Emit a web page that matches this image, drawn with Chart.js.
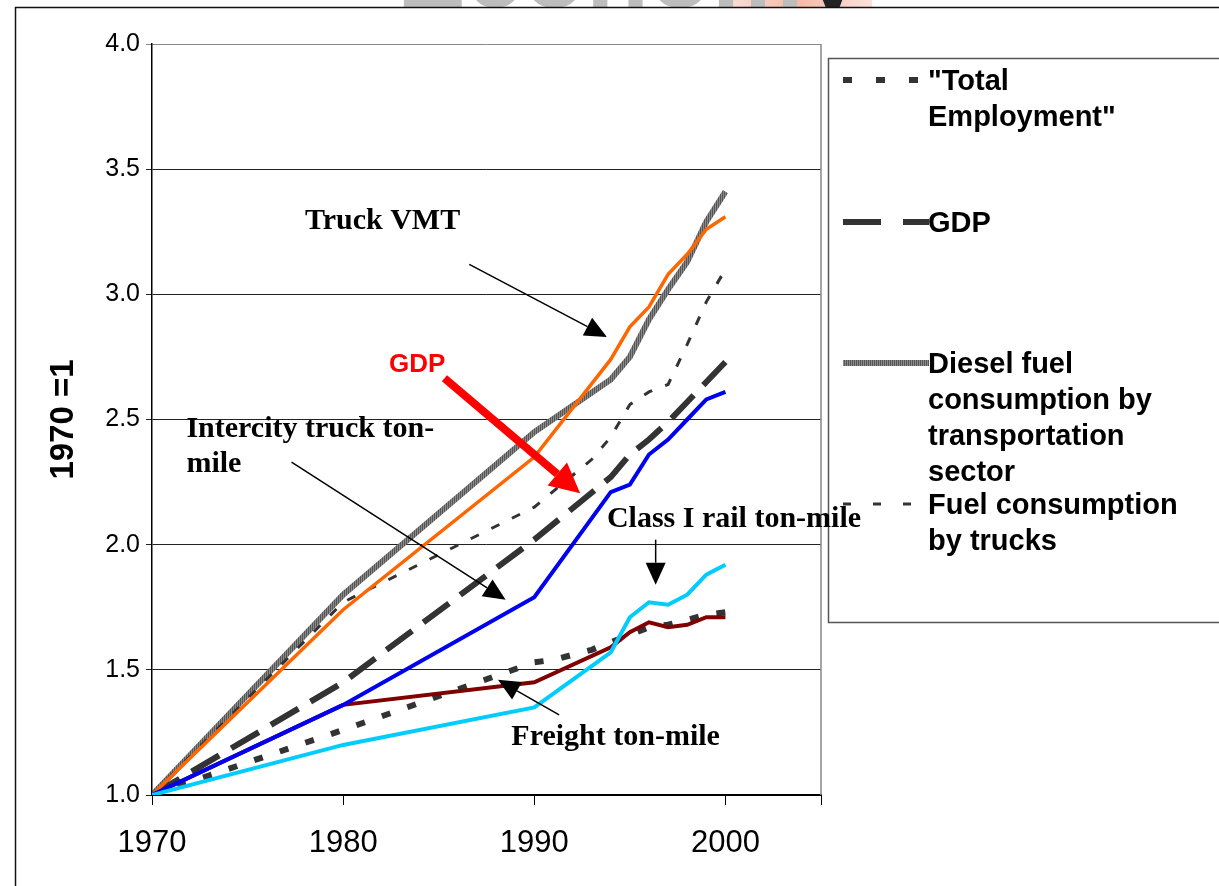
<!DOCTYPE html>
<html>
<head>
<meta charset="utf-8">
<title>Freight activity and the economy, 1970 = 1</title>
<script src="https://cdn.jsdelivr.net/npm/chart.js@4.4.1/dist/chart.umd.min.js"></script>
<style>
  html, body { margin: 0; padding: 0; background: #fff; }
  #wrap { width: 1219px; height: 886px; }
</style>
</head>
<body>
<div id="wrap"><canvas id="chart" width="1219" height="886"></canvas></div>
<script>
// ---- data (index, 1970 = 1) ----
var xTickValues = [1970, 1980, 1990, 2000, 2005];
var xTickLabels = ['1970', '1980', '1990', '2000', ''];
var yTickValues = [1.0, 1.5, 2.0, 2.5, 3.0, 3.5, 4.0];

var employmentYears = [1970, 1980, 1990, 1991, 1992, 1993, 1994, 1995, 1996, 1997, 1998, 1999, 2000];
var employment      = [1.00, 1.26, 1.53, 1.54, 1.56, 1.58, 1.61, 1.64, 1.67, 1.68, 1.70, 1.72, 1.73];

var gdpYears = [1970, 1980, 1990, 1994, 1995, 1996, 1997, 1998, 1999, 2000];
var gdp      = [1.00, 1.45, 2.02, 2.27, 2.36, 2.42, 2.49, 2.57, 2.65, 2.73];

var dieselYears = [1970, 1980, 1990, 1994, 1995, 1996, 1997, 1998, 1999, 2000];
var diesel      = [1.00, 1.80, 2.45, 2.66, 2.75, 2.90, 3.02, 3.13, 3.29, 3.41];

var truckFuelYears = [1970, 1980, 1990, 1993, 1994, 1995, 1996, 1997, 1998, 1999, 2000];
var truckFuel      = [1.00, 1.77, 2.15, 2.34, 2.43, 2.56, 2.61, 2.64, 2.80, 2.97, 3.10];

var truckVmtYears = [1970, 1980, 1990, 1994, 1995, 1996, 1997, 1998, 1999, 2000];
var truckVmt      = [1.00, 1.74, 2.35, 2.74, 2.87, 2.95, 3.08, 3.16, 3.26, 3.31];

var intercityYears = [1970, 1980, 1990, 1994, 1995, 1996, 1997, 1998, 1999, 2000];
var intercity      = [1.00, 1.36, 1.79, 2.21, 2.24, 2.36, 2.42, 2.50, 2.58, 2.61];

var railYears = [1970, 1980, 1990, 1994, 1995, 1996, 1997, 1998, 1999, 2000];
var rail      = [1.00, 1.20, 1.35, 1.57, 1.71, 1.77, 1.76, 1.80, 1.88, 1.92];

var freightYears = [1970, 1980, 1990, 1994, 1995, 1996, 1997, 1998, 1999, 2000];
var freight      = [1.00, 1.36, 1.45, 1.59, 1.65, 1.69, 1.67, 1.68, 1.71, 1.71];

// legend text, one entry per line of text (only the first four series are in the legend)
var legendText = [
    ['"Total', 'Employment"'],
    ['GDP'],
    ['Diesel fuel', 'consumption by', 'transportation', 'sector'],
    ['Fuel consumption', 'by trucks']
];

// callouts in the plot: text lines and arrows, anchored in data units
var callouts = [
    { lines: ['Truck VMT'], at: [1978.0, 3.29], from: [1986.6, 3.12], to: [1993.8, 2.83] },
    { lines: ['Intercity truck ton-', 'mile'], at: [1971.8, 2.46], from: [1977.3, 2.33], to: [1988.5, 1.78] },
    { lines: ['Class I rail ton-mile'], at: [1993.8, 2.10], from: [1996.35, 2.02], to: [1996.35, 1.84] },
    { lines: ['Freight ton-mile'], at: [1988.8, 1.23], from: [1991.3, 1.32], to: [1988.1, 1.46] }
];
var gdpCallout = { text: 'GDP', at: [1982.4, 2.72], from: [1985.3, 2.665], to: [1992.4, 2.205] };

function pairs(xs, ys) {
    var out = [];
    for (var i = 0; i < xs.length; i++) {
        out.push({ x: xs[i], y: ys[i] });
    }
    return out;
}

// striped grey for the diesel line
function stripePattern() {
    var c = document.createElement('canvas');
    c.width = 4; c.height = 4;
    var g = c.getContext('2d');
    g.fillStyle = '#8a8a8a';
    g.fillRect(0, 0, 4, 4);
    g.fillStyle = '#555555';
    g.fillRect(0, 0, 1, 4);
    g.fillRect(2, 0, 1, 4);
    return g.createPattern(c, 'repeat');
}
var dieselColor = stripePattern();

var sansFont = "'Liberation Sans', Arial, sans-serif";
var serifFont = "'Liberation Serif', 'Times New Roman', serif";

function drawArrow(ctx, x1, y1, x2, y2, color, width, headLen, headW) {
    var ang = Math.atan2(y2 - y1, x2 - x1);
    var bx = x2 - Math.cos(ang) * headLen;
    var by = y2 - Math.sin(ang) * headLen;
    ctx.strokeStyle = color;
    ctx.fillStyle = color;
    ctx.lineWidth = width;
    ctx.setLineDash([]);
    ctx.beginPath();
    ctx.moveTo(x1, y1);
    ctx.lineTo(bx, by);
    ctx.stroke();
    ctx.beginPath();
    ctx.moveTo(x2, y2);
    ctx.lineTo(bx + Math.sin(ang) * headW / 2, by - Math.cos(ang) * headW / 2);
    ctx.lineTo(bx - Math.sin(ang) * headW / 2, by + Math.cos(ang) * headW / 2);
    ctx.closePath();
    ctx.fill();
}

var decorPlugin = {
    id: 'decor',
    beforeDraw: function (chart) {
        var ctx = chart.ctx;
        ctx.save();
        ctx.fillStyle = '#fff';
        ctx.fillRect(0, 0, chart.width, chart.height);

        // cut-off slide title behind the frame
        ctx.beginPath();
        ctx.rect(0, 0, chart.width, 8);
        ctx.clip();
        var grad = ctx.createLinearGradient(720, 0, 875, 0);
        grad.addColorStop(0, '#fbe3dc');
        grad.addColorStop(0.5, '#f6b9a6');
        grad.addColorStop(1, '#fbe3dc');
        ctx.fillStyle = grad;
        ctx.fillRect(722, 0, 150, 8);
        ctx.font = 'bold 103px ' + sansFont;
        ctx.textBaseline = 'alphabetic';
        ctx.fillStyle = '#bdbdbd';
        ctx.fillText('Econom', 397, 7);
        ctx.fillStyle = '#222';
        ctx.fillText('y', 397 + ctx.measureText('Econom').width, 7);
        ctx.restore();

        // outer frame
        ctx.save();
        ctx.strokeStyle = '#111';
        ctx.lineWidth = 1.5;
        ctx.beginPath();
        ctx.moveTo(15.5, chart.height);
        ctx.lineTo(15.5, 7.5);
        ctx.lineTo(chart.width, 7.5);
        ctx.stroke();
        ctx.restore();
    },
    beforeDatasetsDraw: function (chart) {
        var a = chart.chartArea;
        var ctx = chart.ctx;
        ctx.save();
        ctx.strokeStyle = '#888';
        ctx.lineWidth = 1.5;
        ctx.beginPath();
        ctx.moveTo(a.right, a.top);
        ctx.lineTo(a.right, a.bottom);
        ctx.stroke();
        ctx.restore();
    },
    afterDraw: function (chart) {
        var ctx = chart.ctx;
        var xs = chart.scales.x, ys = chart.scales.y;
        var i, j;
        ctx.save();

        // legend box
        var lx = 828, ly = 58, lh = 564;
        ctx.fillStyle = '#fff';
        ctx.fillRect(lx, ly, 420, lh);
        ctx.strokeStyle = '#555';
        ctx.lineWidth = 1.5;
        ctx.strokeRect(lx + 0.5, ly + 0.5, 420, lh);

        var rowTop = [80, 222, 363, 504];
        var sampleDash = [[9, 24], [38, 22], null, [8, 22]];
        ctx.font = 'bold 29px ' + sansFont;
        ctx.textBaseline = 'middle';
        ctx.textAlign = 'left';
        for (i = 0; i < legendText.length; i++) {
            var ds = chart.data.datasets[i];
            ctx.strokeStyle = ds.borderColor;
            ctx.lineWidth = ds.borderWidth;
            ctx.setLineDash(sampleDash[i] || []);
            ctx.beginPath();
            ctx.moveTo(843, rowTop[i]);
            ctx.lineTo(929, rowTop[i]);
            ctx.stroke();
            ctx.setLineDash([]);
            ctx.fillStyle = '#000';
            for (j = 0; j < legendText[i].length; j++) {
                ctx.fillText(legendText[i][j], 928, rowTop[i] + 2 + j * 36);
            }
        }

        // black callouts
        ctx.font = 'bold 30px ' + serifFont;
        for (i = 0; i < callouts.length; i++) {
            var c = callouts[i];
            ctx.fillStyle = '#000';
            for (j = 0; j < c.lines.length; j++) {
                ctx.fillText(c.lines[j], xs.getPixelForValue(c.at[0]), ys.getPixelForValue(c.at[1]) + j * 35);
            }
            drawArrow(ctx, xs.getPixelForValue(c.from[0]), ys.getPixelForValue(c.from[1]),
                xs.getPixelForValue(c.to[0]), ys.getPixelForValue(c.to[1]), '#000', 1.5, 22, 20);
        }

        // red GDP callout
        ctx.font = 'bold 26px ' + sansFont;
        ctx.fillStyle = '#ff0000';
        ctx.fillText(gdpCallout.text, xs.getPixelForValue(gdpCallout.at[0]), ys.getPixelForValue(gdpCallout.at[1]));
        drawArrow(ctx, xs.getPixelForValue(gdpCallout.from[0]), ys.getPixelForValue(gdpCallout.from[1]),
            xs.getPixelForValue(gdpCallout.to[0]), ys.getPixelForValue(gdpCallout.to[1]), '#ff0000', 8, 30, 30);

        ctx.restore();
    }
};

var ctx = document.getElementById('chart').getContext('2d');
var chart = new Chart(ctx, {
    type: 'line',
    data: {
        datasets: [
            { label: 'Total Employment', data: pairs(employmentYears, employment), borderColor: '#333333', borderWidth: 6, borderDash: [9, 18], order: 3 },
            { label: 'GDP', data: pairs(gdpYears, gdp), borderColor: '#333333', borderWidth: 6, borderDash: [32, 14], order: 4 },
            { label: 'Diesel fuel consumption by transportation sector', data: pairs(dieselYears, diesel), borderColor: dieselColor, borderWidth: 6, order: 6 },
            { label: 'Fuel consumption by trucks', data: pairs(truckFuelYears, truckFuel), borderColor: '#333333', borderWidth: 3, borderDash: [9, 14], order: 5 },
            { label: 'Truck VMT', data: pairs(truckVmtYears, truckVmt), borderColor: '#ff6600', borderWidth: 3.5, order: 2 },
            { label: 'Intercity truck ton-mile', data: pairs(intercityYears, intercity), borderColor: '#0000ee', borderWidth: 4, order: 1 },
            { label: 'Class I rail ton-mile', data: pairs(railYears, rail), borderColor: '#00ccff', borderWidth: 4, order: 0 },
            { label: 'Freight ton-mile', data: pairs(freightYears, freight), borderColor: '#800000', borderWidth: 4, order: 2 }
        ]
    },
    options: {
        responsive: false,
        animation: false,
        devicePixelRatio: 1,
        layout: { padding: { left: 0, top: 44, right: 398, bottom: 0 } },
        elements: {
            point: { radius: 0, hoverRadius: 0 },
            line: { tension: 0, fill: false, borderCapStyle: 'butt', borderJoinStyle: 'miter' }
        },
        plugins: {
            legend: { display: false },
            tooltip: { enabled: false }
        },
        scales: {
            x: {
                type: 'linear',
                min: 1970,
                max: 2005,
                afterBuildTicks: function (scale) {
                    scale.ticks = xTickValues.map(function (v) { return { value: v }; });
                },
                afterFit: function (scale) { scale.height = 91; },
                ticks: {
                    autoSkip: false,
                    maxRotation: 0,
                    padding: 20,
                    color: '#000',
                    font: { family: sansFont, size: 31 },
                    callback: function (value) {
                        return xTickLabels[xTickValues.indexOf(value)];
                    }
                },
                grid: { drawOnChartArea: false, drawTicks: true, tickLength: 10, color: '#000', lineWidth: 1 },
                border: { display: true, color: '#000', width: 2 }
            },
            y: {
                min: 1,
                max: 4,
                afterBuildTicks: function (scale) {
                    scale.ticks = yTickValues.map(function (v) { return { value: v }; });
                },
                afterFit: function (scale) { scale.width = 152; },
                ticks: {
                    padding: 6,
                    color: '#000',
                    font: { family: sansFont, size: 25 },
                    callback: function (value) { return value.toFixed(1); }
                },
                grid: {
                    tickLength: 6,
                    lineWidth: 1,
                    color: function (c) { return c.tick && c.tick.value === 4 ? '#888' : '#222'; }
                },
                border: { display: true, color: '#000', width: 1.5 },
                title: {
                    display: true,
                    text: '1970 =1',
                    color: '#000',
                    font: { family: sansFont, size: 33, weight: 'bold' },
                    padding: { top: 44, bottom: 0 }
                }
            }
        }
    },
    plugins: [decorPlugin]
});
</script>
</body>
</html>
